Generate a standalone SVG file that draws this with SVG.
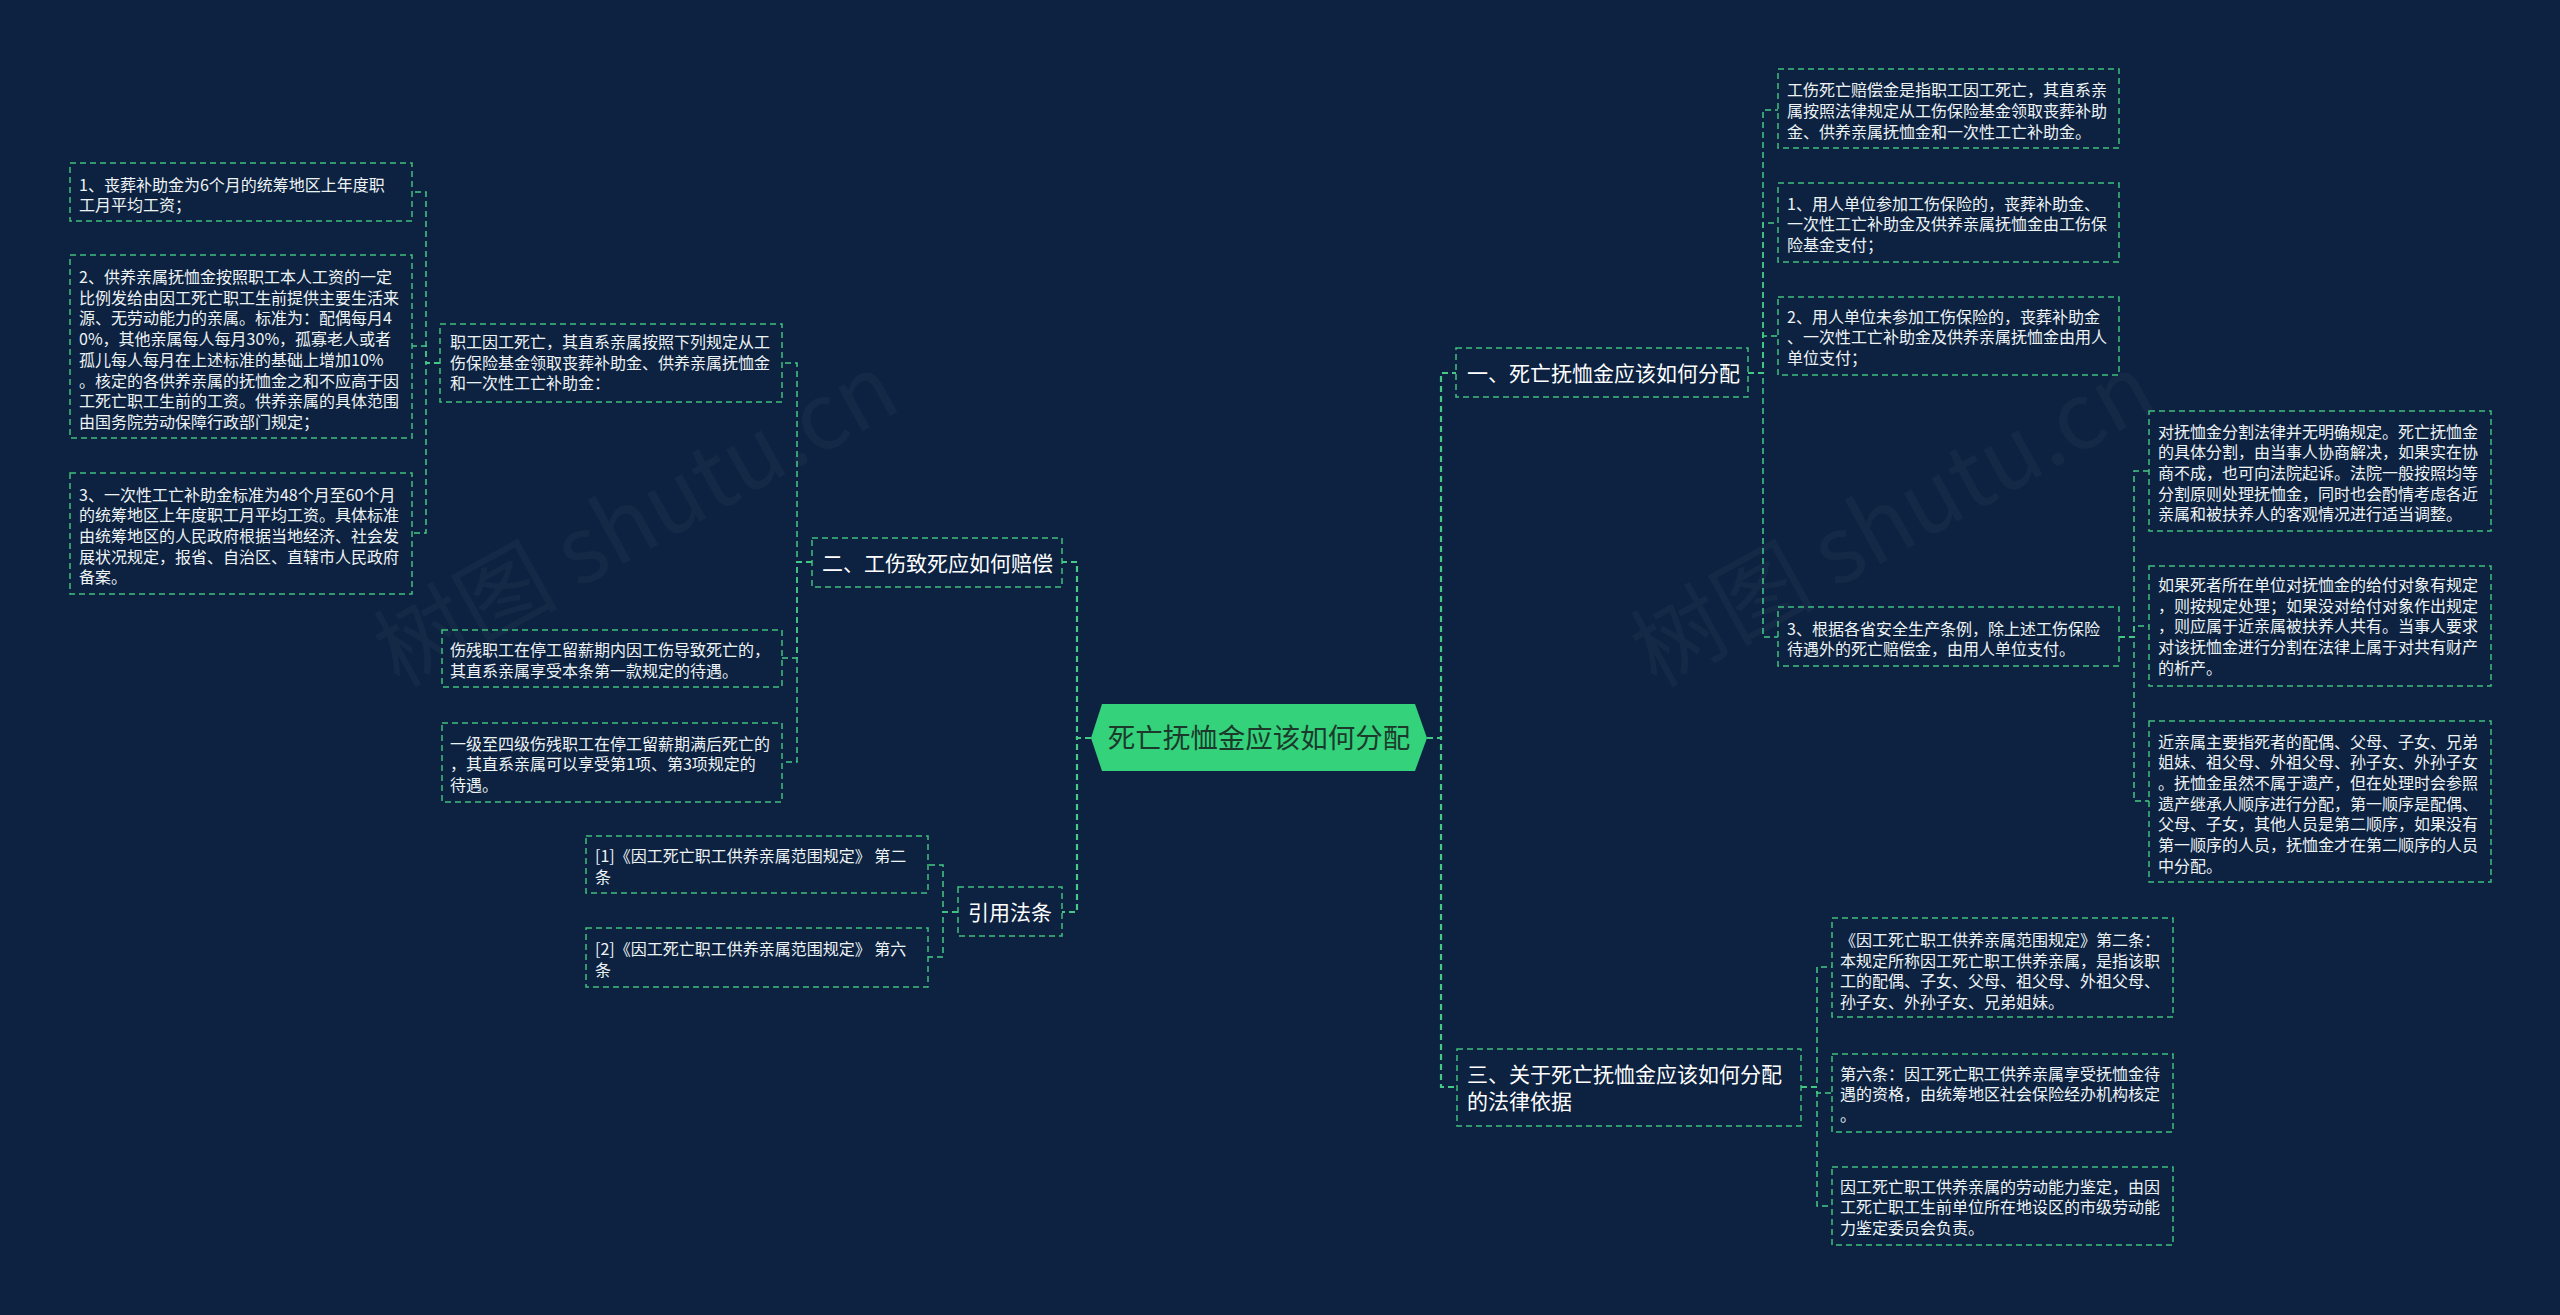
<svg xmlns="http://www.w3.org/2000/svg" width="2560" height="1315" viewBox="0 0 2560 1315">
<style>
.bg{fill:#0c2240}
.box{fill:none;stroke:#3fbf7c;stroke-width:1.5;stroke-dasharray:6 4}
.t{font-family:"Noto Sans CJK SC","Microsoft YaHei",sans-serif;font-size:16px;fill:#eef3f6}
.h{font-family:"Noto Sans CJK SC","Microsoft YaHei",sans-serif;font-size:21px;fill:#ffffff}
.c{font-family:"Noto Sans CJK SC","Microsoft YaHei",sans-serif;font-size:27.5px;fill:#1c3a2b;text-anchor:middle}
.ln{fill:none;stroke:#45c985;stroke-width:1.5;stroke-dasharray:6 4}
.lm{fill:none;stroke:#45c985;stroke-width:2.2;stroke-dasharray:6 4}
.wm{font-family:"Noto Sans CJK SC","Liberation Serif",serif;font-size:92px;fill:#ffffff;fill-opacity:0.035}
</style>
<rect class="bg" x="0" y="0" width="2560" height="1315"/>
<g id="watermark">
<text class="wm" x="637" y="552" text-anchor="middle" transform="rotate(-29 637 522)">树图 shutu.cn</text>
<text class="wm" x="1894" y="552" text-anchor="middle" transform="rotate(-29 1894 522)">树图 shutu.cn</text>
</g>
<g id="connectors">
<path class="lm" d="M1091 738 H1077 V562 H1062"/>
<path class="lm" d="M1091 738 H1077 V912 H1062"/>
<path class="lm" d="M1427 738 H1441 V373 H1456"/>
<path class="lm" d="M1427 738 H1441 V1087 H1457"/>
<path class="ln" d="M812 562 H797 V363 H782"/>
<path class="ln" d="M812 562 H797 V658 H782"/>
<path class="ln" d="M812 562 H797 V762 H782"/>
<path class="ln" d="M440 363 H426 V192 H412"/>
<path class="ln" d="M440 363 H426 V346 H412"/>
<path class="ln" d="M440 363 H426 V533 H412"/>
<path class="ln" d="M958 912 H943 V865 H928"/>
<path class="ln" d="M958 912 H943 V957 H928"/>
<path class="ln" d="M1748 373 H1763 V110 H1778"/>
<path class="ln" d="M1748 373 H1763 V223 H1778"/>
<path class="ln" d="M1748 373 H1763 V336 H1778"/>
<path class="ln" d="M1748 373 H1763 V637 H1778"/>
<path class="ln" d="M2119 637 H2134 V471 H2149"/>
<path class="ln" d="M2119 637 H2134 V626 H2149"/>
<path class="ln" d="M2119 637 H2134 V801 H2149"/>
<path class="ln" d="M1801 1087 H1817 V967 H1832"/>
<path class="ln" d="M1801 1087 H1817 V1093 H1832"/>
<path class="ln" d="M1801 1087 H1817 V1206 H1832"/>
</g>
<g id="root">
<polygon points="1091,738 1102,704 1415,704 1427,738 1415,771 1102,771" fill="#33d27b"/>
<text class="c" x="1259" y="748">死亡抚恤金应该如何分配</text>
</g>
<g id="n2">
<rect class="box" x="812" y="538" width="250" height="49"/>
<text class="h" x="822" y="571">二、工伤致死应如何赔偿</text>
</g>
<g id="n2-p1">
<rect class="box" x="440" y="324" width="342" height="78"/>
<text class="t" x="450"><tspan x="450" y="347.5">职工因工死亡，其直系亲属按照下列规定从工</tspan><tspan x="450" y="368.5">伤保险基金领取丧葬补助金、供养亲属抚恤金</tspan><tspan x="450" y="389">和一次性工亡补助金：</tspan></text>
</g>
<g id="n2-a1">
<rect class="box" x="70" y="163" width="342" height="58"/>
<text class="t"><tspan x="79" y="190.5">1、丧葬补助金为6个月的统筹地区上年度职</tspan><tspan x="79" y="211">工月平均工资；</tspan></text>
</g>
<g id="n2-a2">
<rect class="box" x="70" y="255" width="342" height="183"/>
<text class="t"><tspan x="79" y="283">2、供养亲属抚恤金按照职工本人工资的一定</tspan><tspan x="79" y="303.7">比例发给由因工死亡职工生前提供主要生活来</tspan><tspan x="79" y="324.4">源、无劳动能力的亲属。标准为：配偶每月4</tspan><tspan x="79" y="345.1">0%，其他亲属每人每月30%，孤寡老人或者</tspan><tspan x="79" y="365.8">孤儿每人每月在上述标准的基础上增加10%</tspan><tspan x="79" y="386.5">。核定的各供养亲属的抚恤金之和不应高于因</tspan><tspan x="79" y="407.2">工死亡职工生前的工资。供养亲属的具体范围</tspan><tspan x="79" y="427.9">由国务院劳动保障行政部门规定；</tspan></text>
</g>
<g id="n2-a3">
<rect class="box" x="70" y="473" width="342" height="121"/>
<text class="t"><tspan x="79" y="500.5">3、一次性工亡补助金标准为48个月至60个月</tspan><tspan x="79" y="521.2">的统筹地区上年度职工月平均工资。具体标准</tspan><tspan x="79" y="541.9">由统筹地区的人民政府根据当地经济、社会发</tspan><tspan x="79" y="562.6">展状况规定，报省、自治区、直辖市人民政府</tspan><tspan x="79" y="583.3">备案。</tspan></text>
</g>
<g id="n2-b1">
<rect class="box" x="442" y="630" width="340" height="57"/>
<text class="t"><tspan x="450" y="656">伤残职工在停工留薪期内因工伤导致死亡的，</tspan><tspan x="450" y="677">其直系亲属享受本条第一款规定的待遇。</tspan></text>
</g>
<g id="n2-b2">
<rect class="box" x="442" y="723" width="340" height="79"/>
<text class="t"><tspan x="450" y="749.5">一级至四级伤残职工在停工留薪期满后死亡的</tspan><tspan x="450" y="770">，其直系亲属可以享受第1项、第3项规定的</tspan><tspan x="450" y="791">待遇。</tspan></text>
</g>
<g id="n-ref">
<rect class="box" x="958" y="887" width="104" height="49"/>
<text class="h" x="968" y="920">引用法条</text>
</g>
<g id="n-ref-1">
<rect class="box" x="586" y="836" width="342" height="57"/>
<text class="t"><tspan x="595" y="861.5">[1]《因工死亡职工供养亲属范围规定》 第二</tspan><tspan x="595" y="882.5">条</tspan></text>
</g>
<g id="n-ref-2">
<rect class="box" x="586" y="928" width="342" height="59"/>
<text class="t"><tspan x="595" y="955">[2]《因工死亡职工供养亲属范围规定》 第六</tspan><tspan x="595" y="976">条</tspan></text>
</g>
<g id="n1">
<rect class="box" x="1456" y="348" width="292" height="49"/>
<text class="h" x="1467" y="381">一、死亡抚恤金应该如何分配</text>
</g>
<g id="n1-c1">
<rect class="box" x="1778" y="69" width="341" height="79"/>
<text class="t"><tspan x="1787" y="96">工伤死亡赔偿金是指职工因工死亡，其直系亲</tspan><tspan x="1787" y="117">属按照法律规定从工伤保险基金领取丧葬补助</tspan><tspan x="1787" y="137.5">金、供养亲属抚恤金和一次性工亡补助金。</tspan></text>
</g>
<g id="n1-c2">
<rect class="box" x="1778" y="183" width="341" height="79"/>
<text class="t"><tspan x="1787" y="209.5">1、用人单位参加工伤保险的，丧葬补助金、</tspan><tspan x="1787" y="230">一次性工亡补助金及供养亲属抚恤金由工伤保</tspan><tspan x="1787" y="251">险基金支付；</tspan></text>
</g>
<g id="n1-c3">
<rect class="box" x="1778" y="297" width="341" height="78"/>
<text class="t"><tspan x="1787" y="322.5">2、用人单位未参加工伤保险的，丧葬补助金</tspan><tspan x="1787" y="343">、一次性工亡补助金及供养亲属抚恤金由用人</tspan><tspan x="1787" y="364">单位支付；</tspan></text>
</g>
<g id="n1-c4">
<rect class="box" x="1778" y="607" width="341" height="59"/>
<text class="t"><tspan x="1787" y="634.5">3、根据各省安全生产条例，除上述工伤保险</tspan><tspan x="1787" y="655">待遇外的死亡赔偿金，由用人单位支付。</tspan></text>
</g>
<g id="n1-d1">
<rect class="box" x="2149" y="411" width="342" height="120"/>
<text class="t"><tspan x="2158" y="437.5">对抚恤金分割法律并无明确规定。死亡抚恤金</tspan><tspan x="2158" y="458.2">的具体分割，由当事人协商解决，如果实在协</tspan><tspan x="2158" y="478.9">商不成，也可向法院起诉。法院一般按照均等</tspan><tspan x="2158" y="499.6">分割原则处理抚恤金，同时也会酌情考虑各近</tspan><tspan x="2158" y="520.3">亲属和被扶养人的客观情况进行适当调整。</tspan></text>
</g>
<g id="n1-d2">
<rect class="box" x="2149" y="566" width="342" height="120"/>
<text class="t"><tspan x="2158" y="591">如果死者所在单位对抚恤金的给付对象有规定</tspan><tspan x="2158" y="611.7">，则按规定处理；如果没对给付对象作出规定</tspan><tspan x="2158" y="632.4">，则应属于近亲属被扶养人共有。当事人要求</tspan><tspan x="2158" y="653.1">对该抚恤金进行分割在法律上属于对共有财产</tspan><tspan x="2158" y="673.8">的析产。</tspan></text>
</g>
<g id="n1-d3">
<rect class="box" x="2149" y="721" width="342" height="161"/>
<text class="t"><tspan x="2158" y="747.5">近亲属主要指死者的配偶、父母、子女、兄弟</tspan><tspan x="2158" y="768.2">姐妹、祖父母、外祖父母、孙子女、外孙子女</tspan><tspan x="2158" y="788.9">。抚恤金虽然不属于遗产，但在处理时会参照</tspan><tspan x="2158" y="809.6">遗产继承人顺序进行分配，第一顺序是配偶、</tspan><tspan x="2158" y="830.3">父母、子女，其他人员是第二顺序，如果没有</tspan><tspan x="2158" y="851">第一顺序的人员，抚恤金才在第二顺序的人员</tspan><tspan x="2158" y="871.7">中分配。</tspan></text>
</g>
<g id="n3">
<rect class="box" x="1457" y="1049" width="344" height="77"/>
<text class="h"><tspan x="1467" y="1081.5">三、关于死亡抚恤金应该如何分配</tspan><tspan x="1467" y="1109">的法律依据</tspan></text>
</g>
<g id="n3-e1">
<rect class="box" x="1832" y="918" width="341" height="99"/>
<text class="t"><tspan x="1840" y="946">《因工死亡职工供养亲属范围规定》第二条：</tspan><tspan x="1840" y="966.7">本规定所称因工死亡职工供养亲属，是指该职</tspan><tspan x="1840" y="987.4">工的配偶、子女、父母、祖父母、外祖父母、</tspan><tspan x="1840" y="1008.1">孙子女、外孙子女、兄弟姐妹。</tspan></text>
</g>
<g id="n3-e2">
<rect class="box" x="1832" y="1054" width="341" height="78"/>
<text class="t"><tspan x="1840" y="1079.5">第六条：因工死亡职工供养亲属享受抚恤金待</tspan><tspan x="1840" y="1100.2">遇的资格，由统筹地区社会保险经办机构核定</tspan><tspan x="1840" y="1120.9">。</tspan></text>
</g>
<g id="n3-e3">
<rect class="box" x="1832" y="1167" width="341" height="78"/>
<text class="t"><tspan x="1840" y="1192.5">因工死亡职工供养亲属的劳动能力鉴定，由因</tspan><tspan x="1840" y="1213.2">工死亡职工生前单位所在地设区的市级劳动能</tspan><tspan x="1840" y="1233.9">力鉴定委员会负责。</tspan></text>
</g>
</svg>
